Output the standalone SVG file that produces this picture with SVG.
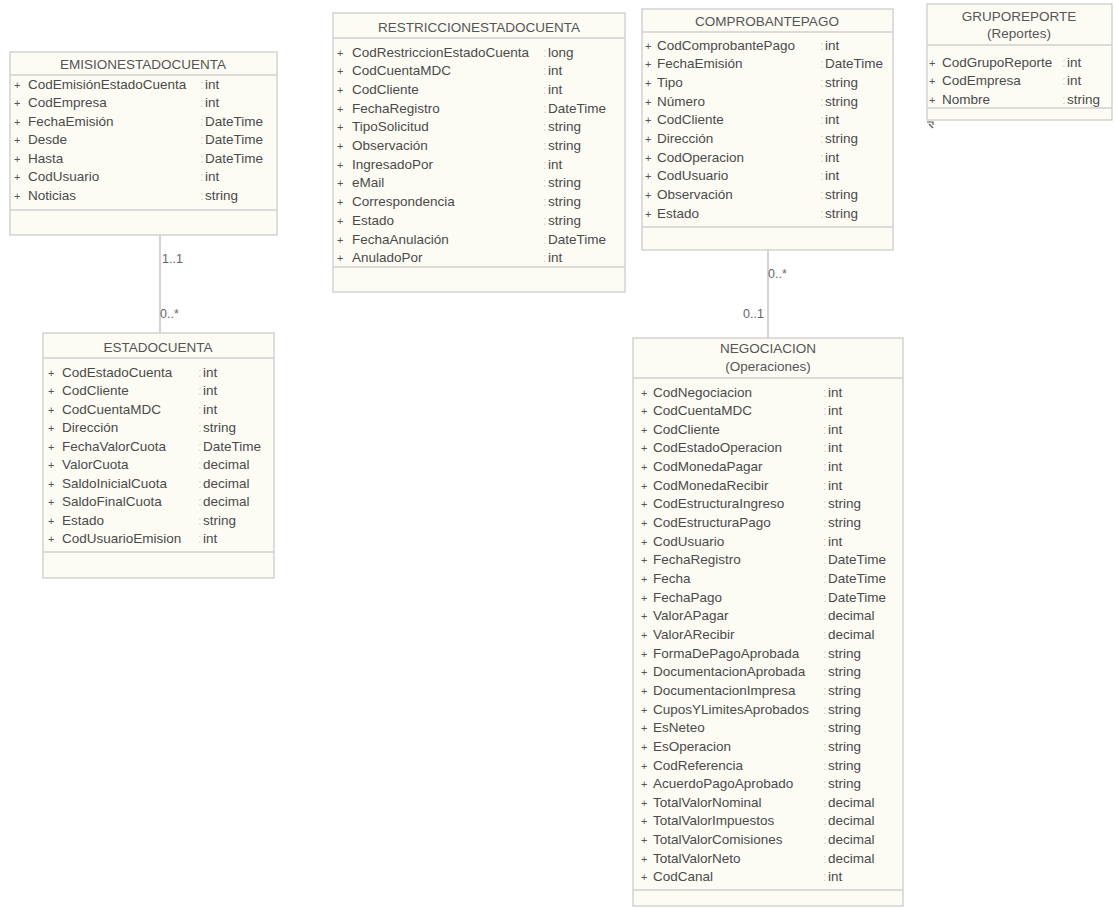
<svg xmlns="http://www.w3.org/2000/svg" width="1114" height="908" viewBox="0 0 1114 908">
<style>
.box{fill:#fdfcf4;stroke:#c8c8c8;stroke-width:1.2}
.sep{stroke:#d0d0d0;stroke-width:1.5}
.t{font-family:"Liberation Sans",Arial,sans-serif;font-size:13.5px;fill:#4a4a4a}
.h{font-family:"Liberation Sans",Arial,sans-serif;font-size:13.5px;fill:#555;text-anchor:middle}
.c{font-family:"Liberation Sans",Arial,sans-serif;font-size:13px;fill:#cfcfcf}
.p{font-family:"Liberation Sans",Arial,sans-serif;font-size:11px;fill:#555}
.m{font-family:"Liberation Sans",Arial,sans-serif;font-size:12.5px;fill:#666}
.ln{stroke:#b8b8b8;stroke-width:1.2;fill:none}
</style>
<rect width="1114" height="908" fill="#ffffff"/>
<g id="connectors">
<line class="ln" x1="160" y1="235" x2="160" y2="333"/>
<line class="ln" x1="768" y1="250" x2="768" y2="338"/>
<text class="m" x="162" y="263">1..1</text>
<text class="m" x="160" y="318">0..*</text>
<text class="m" x="768" y="278">0..*</text>
<text class="m" x="743" y="318">0..1</text>
</g>
<g id="EMISIONESTADOCUENTA">
<rect class="box" x="10" y="52" width="267" height="183"/>
<text class="h" x="143" y="69">EMISIONESTADOCUENTA</text>
<line class="sep" x1="10" y1="75" x2="277" y2="75"/>
<line class="sep" x1="10" y1="210" x2="277" y2="210"/>
<g transform="translate(0,88.5)">
<text class="p" x="14" y="0">+</text><text class="t" x="28" y="0">CodEmisiónEstadoCuenta</text><text class="c" x="200" y="0">:</text><text class="t" x="205" y="0">int</text>
<text class="p" x="14" y="18.5">+</text><text class="t" x="28" y="18.5">CodEmpresa</text><text class="c" x="200" y="18.5">:</text><text class="t" x="205" y="18.5">int</text>
<text class="p" x="14" y="37">+</text><text class="t" x="28" y="37">FechaEmisión</text><text class="c" x="200" y="37">:</text><text class="t" x="205" y="37">DateTime</text>
<text class="p" x="14" y="55.5">+</text><text class="t" x="28" y="55.5">Desde</text><text class="c" x="200" y="55.5">:</text><text class="t" x="205" y="55.5">DateTime</text>
<text class="p" x="14" y="74">+</text><text class="t" x="28" y="74">Hasta</text><text class="c" x="200" y="74">:</text><text class="t" x="205" y="74">DateTime</text>
<text class="p" x="14" y="92.5">+</text><text class="t" x="28" y="92.5">CodUsuario</text><text class="c" x="200" y="92.5">:</text><text class="t" x="205" y="92.5">int</text>
<text class="p" x="14" y="111">+</text><text class="t" x="28" y="111">Noticias</text><text class="c" x="200" y="111">:</text><text class="t" x="205" y="111">string</text>
</g>
</g>
<g id="ESTADOCUENTA">
<rect class="box" x="43" y="333" width="231" height="245"/>
<text class="h" x="158" y="352">ESTADOCUENTA</text>
<line class="sep" x1="43" y1="358" x2="274" y2="358"/>
<line class="sep" x1="43" y1="552" x2="274" y2="552"/>
<g transform="translate(0,376.5)">
<text class="p" x="48" y="0">+</text><text class="t" x="62" y="0">CodEstadoCuenta</text><text class="c" x="198" y="0">:</text><text class="t" x="203" y="0">int</text>
<text class="p" x="48" y="18.5">+</text><text class="t" x="62" y="18.5">CodCliente</text><text class="c" x="198" y="18.5">:</text><text class="t" x="203" y="18.5">int</text>
<text class="p" x="48" y="37">+</text><text class="t" x="62" y="37">CodCuentaMDC</text><text class="c" x="198" y="37">:</text><text class="t" x="203" y="37">int</text>
<text class="p" x="48" y="55.5">+</text><text class="t" x="62" y="55.5">Dirección</text><text class="c" x="198" y="55.5">:</text><text class="t" x="203" y="55.5">string</text>
<text class="p" x="48" y="74">+</text><text class="t" x="62" y="74">FechaValorCuota</text><text class="c" x="198" y="74">:</text><text class="t" x="203" y="74">DateTime</text>
<text class="p" x="48" y="92.5">+</text><text class="t" x="62" y="92.5">ValorCuota</text><text class="c" x="198" y="92.5">:</text><text class="t" x="203" y="92.5">decimal</text>
<text class="p" x="48" y="111">+</text><text class="t" x="62" y="111">SaldoInicialCuota</text><text class="c" x="198" y="111">:</text><text class="t" x="203" y="111">decimal</text>
<text class="p" x="48" y="129.5">+</text><text class="t" x="62" y="129.5">SaldoFinalCuota</text><text class="c" x="198" y="129.5">:</text><text class="t" x="203" y="129.5">decimal</text>
<text class="p" x="48" y="148">+</text><text class="t" x="62" y="148">Estado</text><text class="c" x="198" y="148">:</text><text class="t" x="203" y="148">string</text>
<text class="p" x="48" y="166.5">+</text><text class="t" x="62" y="166.5">CodUsuarioEmision</text><text class="c" x="198" y="166.5">:</text><text class="t" x="203" y="166.5">int</text>
</g>
</g>
<g id="RESTRICCIONESTADOCUENTA">
<rect class="box" x="333" y="13" width="292" height="279"/>
<text class="h" x="479" y="32">RESTRICCIONESTADOCUENTA</text>
<line class="sep" x1="333" y1="38" x2="625" y2="38"/>
<line class="sep" x1="333" y1="267" x2="625" y2="267"/>
<g transform="translate(0,56.5)">
<text class="p" x="337" y="0">+</text><text class="t" x="352" y="0">CodRestriccionEstadoCuenta</text><text class="c" x="543" y="0">:</text><text class="t" x="548" y="0">long</text>
<text class="p" x="337" y="18.7">+</text><text class="t" x="352" y="18.7">CodCuentaMDC</text><text class="c" x="543" y="18.7">:</text><text class="t" x="548" y="18.7">int</text>
<text class="p" x="337" y="37.4">+</text><text class="t" x="352" y="37.4">CodCliente</text><text class="c" x="543" y="37.4">:</text><text class="t" x="548" y="37.4">int</text>
<text class="p" x="337" y="56.1">+</text><text class="t" x="352" y="56.1">FechaRegistro</text><text class="c" x="543" y="56.1">:</text><text class="t" x="548" y="56.1">DateTime</text>
<text class="p" x="337" y="74.8">+</text><text class="t" x="352" y="74.8">TipoSolicitud</text><text class="c" x="543" y="74.8">:</text><text class="t" x="548" y="74.8">string</text>
<text class="p" x="337" y="93.5">+</text><text class="t" x="352" y="93.5">Observación</text><text class="c" x="543" y="93.5">:</text><text class="t" x="548" y="93.5">string</text>
<text class="p" x="337" y="112.2">+</text><text class="t" x="352" y="112.2">IngresadoPor</text><text class="c" x="543" y="112.2">:</text><text class="t" x="548" y="112.2">int</text>
<text class="p" x="337" y="130.9">+</text><text class="t" x="352" y="130.9">eMail</text><text class="c" x="543" y="130.9">:</text><text class="t" x="548" y="130.9">string</text>
<text class="p" x="337" y="149.6">+</text><text class="t" x="352" y="149.6">Correspondencia</text><text class="c" x="543" y="149.6">:</text><text class="t" x="548" y="149.6">string</text>
<text class="p" x="337" y="168.3">+</text><text class="t" x="352" y="168.3">Estado</text><text class="c" x="543" y="168.3">:</text><text class="t" x="548" y="168.3">string</text>
<text class="p" x="337" y="187">+</text><text class="t" x="352" y="187">FechaAnulación</text><text class="c" x="543" y="187">:</text><text class="t" x="548" y="187">DateTime</text>
<text class="p" x="337" y="205.7">+</text><text class="t" x="352" y="205.7">AnuladoPor</text><text class="c" x="543" y="205.7">:</text><text class="t" x="548" y="205.7">int</text>
</g>
</g>
<g id="COMPROBANTEPAGO">
<rect class="box" x="642" y="9" width="251" height="241"/>
<text class="h" x="767" y="26">COMPROBANTEPAGO</text>
<line class="sep" x1="642" y1="32" x2="893" y2="32"/>
<line class="sep" x1="642" y1="227" x2="893" y2="227"/>
<g transform="translate(0,49.5)">
<text class="p" x="645" y="0">+</text><text class="t" x="657" y="0">CodComprobantePago</text><text class="c" x="820" y="0">:</text><text class="t" x="825" y="0">int</text>
<text class="p" x="645" y="18.7">+</text><text class="t" x="657" y="18.7">FechaEmisión</text><text class="c" x="820" y="18.7">:</text><text class="t" x="825" y="18.7">DateTime</text>
<text class="p" x="645" y="37.4">+</text><text class="t" x="657" y="37.4">Tipo</text><text class="c" x="820" y="37.4">:</text><text class="t" x="825" y="37.4">string</text>
<text class="p" x="645" y="56.1">+</text><text class="t" x="657" y="56.1">Número</text><text class="c" x="820" y="56.1">:</text><text class="t" x="825" y="56.1">string</text>
<text class="p" x="645" y="74.8">+</text><text class="t" x="657" y="74.8">CodCliente</text><text class="c" x="820" y="74.8">:</text><text class="t" x="825" y="74.8">int</text>
<text class="p" x="645" y="93.5">+</text><text class="t" x="657" y="93.5">Dirección</text><text class="c" x="820" y="93.5">:</text><text class="t" x="825" y="93.5">string</text>
<text class="p" x="645" y="112.2">+</text><text class="t" x="657" y="112.2">CodOperacion</text><text class="c" x="820" y="112.2">:</text><text class="t" x="825" y="112.2">int</text>
<text class="p" x="645" y="130.9">+</text><text class="t" x="657" y="130.9">CodUsuario</text><text class="c" x="820" y="130.9">:</text><text class="t" x="825" y="130.9">int</text>
<text class="p" x="645" y="149.6">+</text><text class="t" x="657" y="149.6">Observación</text><text class="c" x="820" y="149.6">:</text><text class="t" x="825" y="149.6">string</text>
<text class="p" x="645" y="168.3">+</text><text class="t" x="657" y="168.3">Estado</text><text class="c" x="820" y="168.3">:</text><text class="t" x="825" y="168.3">string</text>
</g>
</g>
<g id="GRUPOREPORTE">
<rect class="box" x="927" y="4" width="185" height="116"/>
<text class="h" x="1019" y="21">GRUPOREPORTE</text>
<text class="h" x="1019" y="38">(Reportes)</text>
<line class="sep" x1="927" y1="45" x2="1112" y2="45"/>
<line class="sep" x1="927" y1="108" x2="1112" y2="108"/>
<g transform="translate(0,66.5)">
<text class="p" x="929" y="0">+</text><text class="t" x="942" y="0">CodGrupoReporte</text><text class="c" x="1062" y="0">:</text><text class="t" x="1067" y="0">int</text>
<text class="p" x="929" y="18.5">+</text><text class="t" x="942" y="18.5">CodEmpresa</text><text class="c" x="1062" y="18.5">:</text><text class="t" x="1067" y="18.5">int</text>
<text class="p" x="929" y="37">+</text><text class="t" x="942" y="37">Nombre</text><text class="c" x="1062" y="37">:</text><text class="t" x="1067" y="37">string</text>
</g>
<path d="M927 122 h6 v3 M929 124 l4 4" stroke="#555" stroke-width="1.2" fill="none"/>
</g>
<g id="NEGOCIACION">
<rect class="box" x="633" y="338" width="270" height="568"/>
<text class="h" x="768" y="353">NEGOCIACION</text>
<text class="h" x="768" y="371">(Operaciones)</text>
<line class="sep" x1="633" y1="378" x2="903" y2="378"/>
<line class="sep" x1="633" y1="890" x2="903" y2="890"/>
<g transform="translate(0,396.5)">
<text class="p" x="641" y="0">+</text><text class="t" x="653" y="0">CodNegociacion</text><text class="c" x="823" y="0">:</text><text class="t" x="828" y="0">int</text>
<text class="p" x="641" y="18.65">+</text><text class="t" x="653" y="18.65">CodCuentaMDC</text><text class="c" x="823" y="18.65">:</text><text class="t" x="828" y="18.65">int</text>
<text class="p" x="641" y="37.3">+</text><text class="t" x="653" y="37.3">CodCliente</text><text class="c" x="823" y="37.3">:</text><text class="t" x="828" y="37.3">int</text>
<text class="p" x="641" y="55.95">+</text><text class="t" x="653" y="55.95">CodEstadoOperacion</text><text class="c" x="823" y="55.95">:</text><text class="t" x="828" y="55.95">int</text>
<text class="p" x="641" y="74.6">+</text><text class="t" x="653" y="74.6">CodMonedaPagar</text><text class="c" x="823" y="74.6">:</text><text class="t" x="828" y="74.6">int</text>
<text class="p" x="641" y="93.25">+</text><text class="t" x="653" y="93.25">CodMonedaRecibir</text><text class="c" x="823" y="93.25">:</text><text class="t" x="828" y="93.25">int</text>
<text class="p" x="641" y="111.9">+</text><text class="t" x="653" y="111.9">CodEstructuraIngreso</text><text class="c" x="823" y="111.9">:</text><text class="t" x="828" y="111.9">string</text>
<text class="p" x="641" y="130.55">+</text><text class="t" x="653" y="130.55">CodEstructuraPago</text><text class="c" x="823" y="130.55">:</text><text class="t" x="828" y="130.55">string</text>
<text class="p" x="641" y="149.2">+</text><text class="t" x="653" y="149.2">CodUsuario</text><text class="c" x="823" y="149.2">:</text><text class="t" x="828" y="149.2">int</text>
<text class="p" x="641" y="167.85">+</text><text class="t" x="653" y="167.85">FechaRegistro</text><text class="c" x="823" y="167.85">:</text><text class="t" x="828" y="167.85">DateTime</text>
<text class="p" x="641" y="186.5">+</text><text class="t" x="653" y="186.5">Fecha</text><text class="c" x="823" y="186.5">:</text><text class="t" x="828" y="186.5">DateTime</text>
<text class="p" x="641" y="205.15">+</text><text class="t" x="653" y="205.15">FechaPago</text><text class="c" x="823" y="205.15">:</text><text class="t" x="828" y="205.15">DateTime</text>
<text class="p" x="641" y="223.8">+</text><text class="t" x="653" y="223.8">ValorAPagar</text><text class="c" x="823" y="223.8">:</text><text class="t" x="828" y="223.8">decimal</text>
<text class="p" x="641" y="242.45">+</text><text class="t" x="653" y="242.45">ValorARecibir</text><text class="c" x="823" y="242.45">:</text><text class="t" x="828" y="242.45">decimal</text>
<text class="p" x="641" y="261.1">+</text><text class="t" x="653" y="261.1">FormaDePagoAprobada</text><text class="c" x="823" y="261.1">:</text><text class="t" x="828" y="261.1">string</text>
<text class="p" x="641" y="279.75">+</text><text class="t" x="653" y="279.75">DocumentacionAprobada</text><text class="c" x="823" y="279.75">:</text><text class="t" x="828" y="279.75">string</text>
<text class="p" x="641" y="298.4">+</text><text class="t" x="653" y="298.4">DocumentacionImpresa</text><text class="c" x="823" y="298.4">:</text><text class="t" x="828" y="298.4">string</text>
<text class="p" x="641" y="317.05">+</text><text class="t" x="653" y="317.05">CuposYLimitesAprobados</text><text class="c" x="823" y="317.05">:</text><text class="t" x="828" y="317.05">string</text>
<text class="p" x="641" y="335.7">+</text><text class="t" x="653" y="335.7">EsNeteo</text><text class="c" x="823" y="335.7">:</text><text class="t" x="828" y="335.7">string</text>
<text class="p" x="641" y="354.35">+</text><text class="t" x="653" y="354.35">EsOperacion</text><text class="c" x="823" y="354.35">:</text><text class="t" x="828" y="354.35">string</text>
<text class="p" x="641" y="373">+</text><text class="t" x="653" y="373">CodReferencia</text><text class="c" x="823" y="373">:</text><text class="t" x="828" y="373">string</text>
<text class="p" x="641" y="391.65">+</text><text class="t" x="653" y="391.65">AcuerdoPagoAprobado</text><text class="c" x="823" y="391.65">:</text><text class="t" x="828" y="391.65">string</text>
<text class="p" x="641" y="410.3">+</text><text class="t" x="653" y="410.3">TotalValorNominal</text><text class="c" x="823" y="410.3">:</text><text class="t" x="828" y="410.3">decimal</text>
<text class="p" x="641" y="428.95">+</text><text class="t" x="653" y="428.95">TotalValorImpuestos</text><text class="c" x="823" y="428.95">:</text><text class="t" x="828" y="428.95">decimal</text>
<text class="p" x="641" y="447.6">+</text><text class="t" x="653" y="447.6">TotalValorComisiones</text><text class="c" x="823" y="447.6">:</text><text class="t" x="828" y="447.6">decimal</text>
<text class="p" x="641" y="466.25">+</text><text class="t" x="653" y="466.25">TotalValorNeto</text><text class="c" x="823" y="466.25">:</text><text class="t" x="828" y="466.25">decimal</text>
<text class="p" x="641" y="484.9">+</text><text class="t" x="653" y="484.9">CodCanal</text><text class="c" x="823" y="484.9">:</text><text class="t" x="828" y="484.9">int</text>
</g>
</g>
</svg>
